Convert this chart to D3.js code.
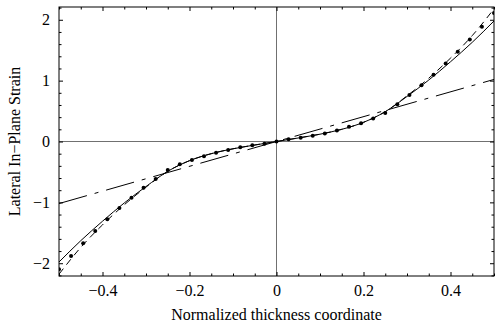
<!DOCTYPE html>
<html>
<head>
<meta charset="utf-8">
<script src="https://cdn.jsdelivr.net/npm/d3@7"></script>
<style>
  html, body { margin: 0; padding: 0; background: #fff; }
  svg { display: block; }
  text { font-family: "Liberation Serif", "Times New Roman", serif; fill: #000; }
</style>
</head>
<body>
<svg id="chart" width="495" height="332"></svg>
<script>
// Measured strain across the thickness (dots)
const pointX = [-0.5, -0.4722, -0.4444, -0.4167, -0.3889, -0.3611, -0.3333, -0.3056, -0.2778,
  -0.25, -0.2222, -0.1944, -0.1667, -0.1389, -0.1111, -0.0833, -0.0556, -0.0278, 0,
  0.0278, 0.0556, 0.0833, 0.1111, 0.1389, 0.1667, 0.1944, 0.2222, 0.25,
  0.2778, 0.3056, 0.3333, 0.3611, 0.3889, 0.4167, 0.4444, 0.4722, 0.5];
const pointY = [-2.10, -1.88, -1.67, -1.47, -1.278, -1.093, -0.923, -0.759, -0.616,
  -0.468, -0.375, -0.304, -0.243, -0.184, -0.14, -0.095, -0.062, -0.036, 0,
  0.035, 0.063, 0.096, 0.132, 0.18, 0.244, 0.30, 0.376, 0.467,
  0.612, 0.762, 0.925, 1.095, 1.28, 1.475, 1.675, 1.887, 2.11];

// Model curves sampled along the thickness
const curveX = [-0.5, -0.45, -0.4, -0.35, -0.3, -0.25, -0.2, -0.15, -0.1, -0.05, 0,
  0.05, 0.1, 0.15, 0.2, 0.25, 0.3, 0.35, 0.4, 0.45, 0.5];
const solidY = [-1.98, -1.63, -1.31, -1.01, -0.74, -0.49, -0.315, -0.2, -0.12, -0.058, 0,
  0.058, 0.12, 0.2, 0.315, 0.49, 0.74, 1.01, 1.31, 1.63, 1.98];
const dashedY = [-2.18, -1.74, -1.37, -1.04, -0.75, -0.49, -0.315, -0.2, -0.12, -0.058, 0,
  0.058, 0.12, 0.2, 0.315, 0.49, 0.75, 1.04, 1.37, 1.74, 2.18];

// Linear (classical) strain distribution
const linearX = [-0.5, 0.5];
const linearY = [-1.02, 1.02];

// Axis ticks and labels
const xMajor = [-0.4, -0.2, 0, 0.2, 0.4];
const xMajorLabels = ["\u22120.4", "\u22120.2", "0", "0.2", "0.4"];
const xMinor = [-0.5, -0.45, -0.35, -0.3, -0.25, -0.15, -0.1, -0.05, 0.05, 0.1, 0.15, 0.25, 0.3, 0.35, 0.45, 0.5];
const yMajor = [-2, -1, 0, 1, 2];
const yMajorLabels = ["\u22122", "\u22121", "0", "1", "2"];
const yMinor = [-2.2, -1.8, -1.6, -1.4, -1.2, -0.8, -0.6, -0.4, -0.2, 0.2, 0.4, 0.6, 0.8, 1.2, 1.4, 1.6, 1.8, 2.2];

const xTitle = "Normalized thickness coordinate";
const yTitle = "Lateral In\u2212Plane Strain";

const svg = d3.select("#chart");
const plotLeft = 59, plotRight = 494, plotTop = 7, plotBottom = 276;
const fontSize = 16;

const x = d3.scaleLinear().domain([-0.5, 0.5]).range([plotLeft, plotRight]);
const y = d3.scaleLinear().domain([-2.21, 2.21]).range([plotBottom, plotTop]);

svg.append("defs").append("clipPath").attr("id", "plot")
  .append("rect").attr("x", plotLeft).attr("y", plotTop)
  .attr("width", plotRight - plotLeft).attr("height", plotBottom - plotTop);

// Zero axes through the origin
svg.append("line").attr("x1", x(0)).attr("x2", x(0)).attr("y1", plotTop).attr("y2", plotBottom)
  .attr("stroke", "#707070").attr("stroke-width", 1);
svg.append("line").attr("x1", plotLeft).attr("x2", plotRight).attr("y1", y(0)).attr("y2", y(0))
  .attr("stroke", "#707070").attr("stroke-width", 1);

const plot = svg.append("g").attr("clip-path", "url(#plot)");

const lineGen = d3.line().x(d => x(d[0])).y(d => y(d[1])).curve(d3.curveMonotoneX);

plot.append("path")
  .datum(linearX.map((v, i) => [v, linearY[i]]))
  .attr("d", d3.line().x(d => x(d[0])).y(d => y(d[1])))
  .attr("fill", "none").attr("stroke", "#000").attr("stroke-width", 1)
  .attr("stroke-dasharray", "29,8,4,8");

plot.append("path")
  .datum(curveX.map((v, i) => [v, dashedY[i]]))
  .attr("d", lineGen)
  .attr("fill", "none").attr("stroke", "#000").attr("stroke-width", 1)
  .attr("stroke-dasharray", "7,5");

plot.append("path")
  .datum(curveX.map((v, i) => [v, solidY[i]]))
  .attr("d", lineGen)
  .attr("fill", "none").attr("stroke", "#000").attr("stroke-width", 1);

plot.selectAll("circle.pt")
  .data(pointX.map((v, i) => [v, pointY[i]]))
  .join("circle").attr("class", "pt")
  .attr("cx", d => x(d[0])).attr("cy", d => y(d[1])).attr("r", 2)
  .attr("fill", "#000");

// Frame with inward ticks on all four sides
function styleAxis(g) {
  g.select(".domain").remove();
  g.selectAll(".tick line").attr("stroke", "#000").attr("stroke-width", 1);
  g.selectAll("text").attr("font-size", fontSize).attr("font-family", "Liberation Serif, serif");
}

svg.append("g").attr("transform", `translate(0,${plotBottom})`)
  .call(d3.axisBottom(x).tickValues(xMajor).tickSize(-4).tickPadding(9)
    .tickFormat((d, i) => xMajorLabels[i]))
  .call(styleAxis);
svg.append("g").attr("transform", `translate(0,${plotBottom})`)
  .call(d3.axisBottom(x).tickValues(xMinor).tickSize(-2.5).tickFormat(""))
  .call(styleAxis);
svg.append("g").attr("transform", `translate(0,${plotTop})`)
  .call(d3.axisTop(x).tickValues(xMajor).tickSize(-4).tickFormat(""))
  .call(styleAxis);
svg.append("g").attr("transform", `translate(0,${plotTop})`)
  .call(d3.axisTop(x).tickValues(xMinor).tickSize(-2.5).tickFormat(""))
  .call(styleAxis);

svg.append("g").attr("transform", `translate(${plotLeft},0)`)
  .call(d3.axisLeft(y).tickValues(yMajor).tickSize(-4).tickPadding(9)
    .tickFormat((d, i) => yMajorLabels[i]))
  .call(styleAxis);
svg.append("g").attr("transform", `translate(${plotLeft},0)`)
  .call(d3.axisLeft(y).tickValues(yMinor).tickSize(-2.5).tickFormat(""))
  .call(styleAxis);
svg.append("g").attr("transform", `translate(${plotRight},0)`)
  .call(d3.axisRight(y).tickValues(yMajor).tickSize(-4).tickFormat(""))
  .call(styleAxis);
svg.append("g").attr("transform", `translate(${plotRight},0)`)
  .call(d3.axisRight(y).tickValues(yMinor).tickSize(-2.5).tickFormat(""))
  .call(styleAxis);

svg.append("rect").attr("x", plotLeft).attr("y", plotTop)
  .attr("width", plotRight - plotLeft).attr("height", plotBottom - plotTop)
  .attr("fill", "none").attr("stroke", "#000").attr("stroke-width", 1);

// Axis titles
svg.append("text").attr("x", x(0)).attr("y", 320)
  .attr("text-anchor", "middle").attr("font-size", fontSize)
  .text(xTitle);
svg.append("text")
  .attr("transform", `translate(20,${(plotTop + plotBottom) / 2}) rotate(-90)`)
  .attr("text-anchor", "middle").attr("font-size", fontSize)
  .text(yTitle);
</script>
</body>
</html>
